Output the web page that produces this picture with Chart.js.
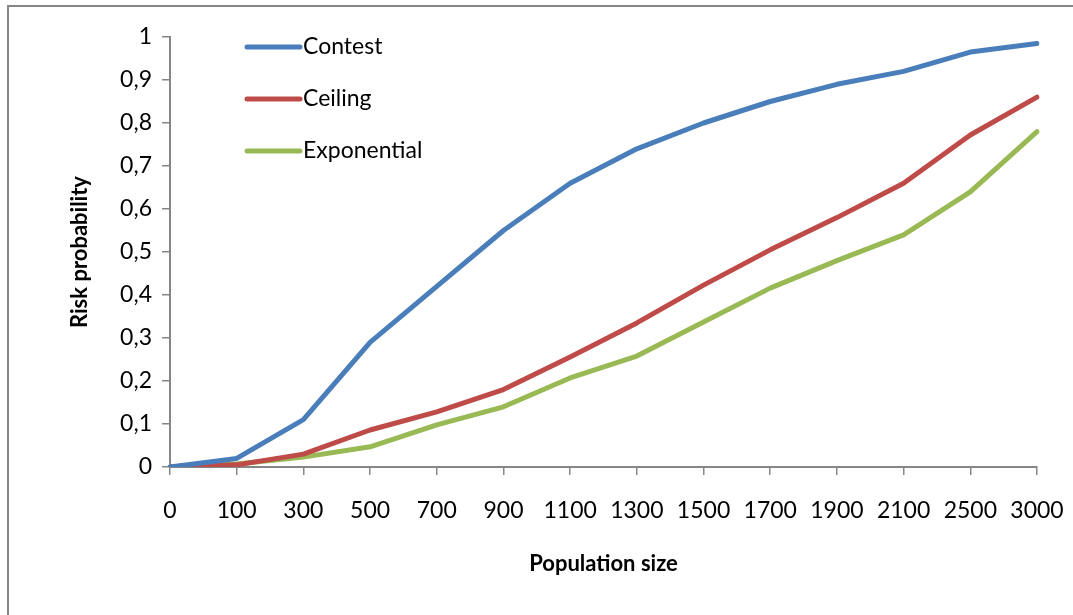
<!DOCTYPE html>
<html>
<head>
<meta charset="utf-8">
<script src="https://cdn.jsdelivr.net/npm/chart.js@4"></script>
<style>
  body { margin: 0; background: #fff; overflow: hidden; }
  #wrap { position: relative; width: 1073px; height: 615px; }
  #frame { position: absolute; left: 7px; top: 5px; width: 2000px; height: 2000px;
           border-left: 2px solid #868686; border-top: 2px solid #868686; }
  #myChart { position: absolute; left: 0; top: 0; }
</style>
</head>
<body>
<div id="wrap">
  <div id="frame"></div>
  <canvas id="myChart" width="1073" height="615"></canvas>
</div>
<script>
// population sizes (x categories)
const populations = ["0", "100", "300", "500", "700", "900", "1100", "1300", "1500", "1700", "1900", "2100", "2500", "3000"];

// risk probability per model
const contest     = [0, 0.02, 0.11, 0.29, 0.42, 0.55, 0.66, 0.74, 0.80, 0.85, 0.89, 0.92, 0.965, 0.985];
const ceiling     = [0, 0.005, 0.03, 0.086, 0.128, 0.18, 0.256, 0.335, 0.423, 0.505, 0.58, 0.66, 0.772, 0.86];
const exponential = [0, 0.007, 0.023, 0.047, 0.098, 0.14, 0.207, 0.258, 0.337, 0.416, 0.48, 0.54, 0.64, 0.78];

const seriesNames = ["Contest", "Ceiling", "Exponential"];
const seriesColors = ["#4A7EBB", "#BE4B48", "#98B954"];

const FONT = "Lato";
const axisGray = "#868686";

// legend drawn inside the plot area, like the original
const insideLegend = {
  id: "insideLegend",
  afterDatasetsDraw(chart) {
    const ctx = chart.ctx;
    const area = chart.chartArea;
    const x0 = area.left + 77;
    let y = area.top + 10;
    ctx.save();
    ctx.font = "23px " + FONT;
    ctx.textBaseline = "middle";
    ctx.textAlign = "left";
    chart.data.datasets.forEach((ds) => {
      ctx.strokeStyle = ds.borderColor;
      ctx.lineWidth = 5;
      ctx.lineCap = "round";
      ctx.beginPath();
      ctx.moveTo(x0, y);
      ctx.lineTo(x0 + 53, y);
      ctx.stroke();
      ctx.fillStyle = "#000";
      ctx.fillText(ds.label, x0 + 56, y);
      y += 52;
    });
    ctx.restore();
  },
};

window.addEventListener("load", function () {
  const data = {
    labels: populations,
    datasets: [contest, ceiling, exponential].map((vals, i) => ({
      label: seriesNames[i],
      data: vals,
      borderColor: seriesColors[i],
      backgroundColor: seriesColors[i],
      borderWidth: 5,
      borderCapStyle: "round",
      borderJoinStyle: "round",
      pointRadius: 0,
      tension: 0,
    })),
  };

  const config = {
    type: "line",
    data,
    options: {
      responsive: false,
      animation: false,
      devicePixelRatio: 1,
      layout: { padding: { left: 0, top: 37, right: 36, bottom: 0 } },
      plugins: {
        legend: { display: false },
        tooltip: { enabled: false },
      },
      scales: {
        x: {
          offset: false,
          grid: { drawOnChartArea: false, drawTicks: true, tickLength: 8, color: axisGray, lineWidth: 1.5 },
          border: { color: axisGray, width: 2 },
          ticks: { color: "#000", font: { family: FONT, size: 23 }, padding: 22, maxRotation: 0, autoSkip: false },
          title: { display: true, text: "Population size", color: "#000",
                   font: { family: FONT, size: 22, weight: "bold" }, padding: { top: 20, bottom: 38 } },
          afterFit: (scale) => {
            scale.height = 148;
            scale.paddingLeft = 0;
            scale.paddingRight = 0;
          },
        },
        y: {
          min: 0,
          max: 1,
          grid: { drawOnChartArea: false, drawTicks: true, tickLength: 8, color: axisGray, lineWidth: 1.5 },
          border: { color: axisGray, width: 2 },
          ticks: {
            stepSize: 0.1,
            color: "#000",
            font: { family: FONT, size: 23 },
            padding: 10,
            callback: (v) => String(Math.round(v * 10) / 10).replace(".", ","),
          },
          title: { display: true, text: "Risk probability", color: "#000",
                   font: { family: FONT, size: 22, weight: "bold" }, padding: { top: 67, bottom: 0 } },
          afterFit: (scale) => {
            scale.width = 170;
            scale.paddingTop = 0;
            scale.paddingBottom = 0;
          },
        },
      },
    },
    plugins: [insideLegend],
  };

  const myChart = new Chart(document.getElementById("myChart"), config);
});
</script>
</body>
</html>
